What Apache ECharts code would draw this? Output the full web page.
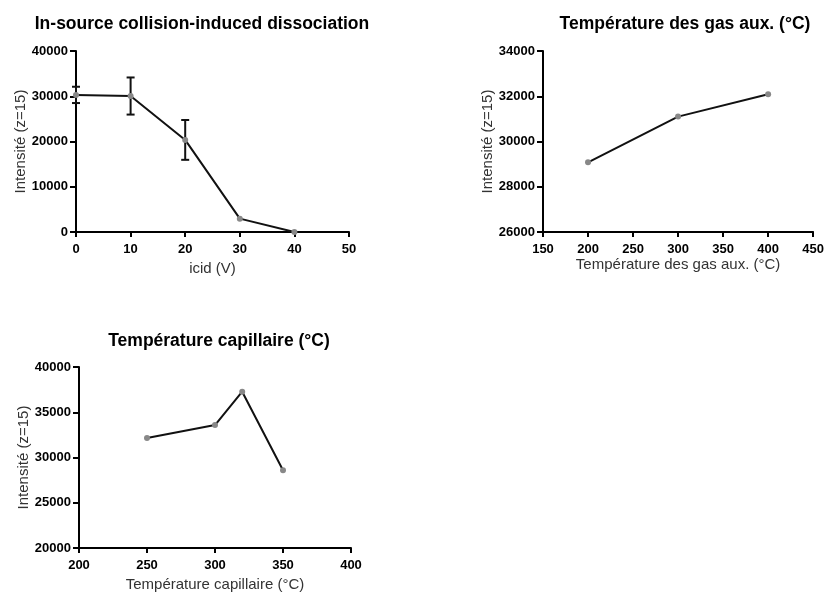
<!DOCTYPE html>
<html><head><meta charset="utf-8">
<script src="https://cdn.jsdelivr.net/npm/echarts@6/dist/echarts.min.js"></script>
<style>html,body{margin:0;padding:0;background:#fff}#c{width:827px;height:593px}</style>
</head><body><div id="c"></div>
<script>
const icidX = [0, 10, 20, 30, 40];
const icidY = [30300, 30050, 20350, 2950, 0];
const icidErr = [1800, 4100, 4400, 0, 0];
const gasX = [200, 300, 400];
const gasY = [29080, 31100, 32090];
const capX = [250, 300, 320, 350];
const capY = [32150, 33580, 37270, 28600];

const titles = ['In-source collision-induced dissociation', 'Température des gas aux. (°C)', 'Température capillaire (°C)'];
const xNames = ['icid (V)', 'Température des gas aux. (°C)', 'Température capillaire (°C)'];
const yName = 'Intensité (z=15)';

const F = 'Liberation Sans, Arial, sans-serif';
const fmt = v => String(v);
function xAxis(i, min, max, interval, gap) {
  return {gridIndex: i, type: 'value', min, max, interval, name: xNames[i], nameLocation: 'middle', nameGap: gap,
    nameTextStyle: {fontFamily: F, fontSize: 15, color: '#333'},
    axisLine: {lineStyle: {color: '#000', width: 2}}, axisTick: {length: 5, lineStyle: {color: '#000', width: 2}},
    axisLabel: {fontFamily: F, fontSize: 13, fontWeight: 'bold', color: '#000', margin: 11, formatter: fmt}, splitLine: {show: false}};
}
function yAxis(i, min, max, interval) {
  return {gridIndex: i, type: 'value', min, max, interval, name: yName, nameLocation: 'middle', nameGap: 48,
    nameTextStyle: {fontFamily: F, fontSize: 15, color: '#333'},
    axisLine: {show: true, lineStyle: {color: '#000', width: 2}}, axisTick: {show: true, length: 6, lineStyle: {color: '#000', width: 2}},
    axisLabel: {fontFamily: F, fontSize: 13, fontWeight: 'bold', color: '#000', margin: 8, formatter: fmt}, splitLine: {show: false}};
}
function line(i, xs, ys) {
  return {type: 'line', xAxisIndex: i, yAxisIndex: i, data: xs.map((x, k) => [x, ys[k]]),
    symbol: 'circle', symbolSize: 6, itemStyle: {color: '#888'}, lineStyle: {color: '#111', width: 2}, z: 3};
}
const tStyle = {fontFamily: F, fontSize: 17.5, fontWeight: 'bold', color: '#000'};
const chart = echarts.init(document.getElementById('c'));
chart.setOption({
  animation: false,
  title: [
    {text: titles[0], left: 197, top: 10, textAlign: 'center', textStyle: tStyle},
    {text: titles[1], left: 680, top: 10, textAlign: 'center', textStyle: tStyle},
    {text: titles[2], left: 214, top: 327, textAlign: 'center', textStyle: tStyle}
  ],
  grid: [
    {left: 76, top: 51, width: 273, height: 181},
    {left: 543, top: 51, width: 273, height: 181},
    {left: 79, top: 367, width: 272, height: 182}
  ],
  xAxis: [xAxis(0, 0, 50, 10, 29), xAxis(1, 150, 450, 50, 22), xAxis(2, 200, 400, 50, 29)],
  yAxis: [yAxis(0, 0, 40000, 10000), yAxis(1, 26000, 34000, 2000), yAxis(2, 20000, 40000, 5000)],
  series: [
    line(0, icidX, icidY),
    {type: 'custom', xAxisIndex: 0, yAxisIndex: 0, z: 2,
      data: icidX.map((x, k) => [x, icidY[k] - icidErr[k], icidY[k] + icidErr[k]]).filter((d, k) => icidErr[k] > 0),
      renderItem: function (params, api) {
        const lo = api.coord([api.value(0), api.value(1)]);
        const hi = api.coord([api.value(0), api.value(2)]);
        const w = 4;
        const st = {stroke: '#111', lineWidth: 2};
        return {type: 'group', children: [
          {type: 'line', shape: {x1: lo[0], y1: lo[1], x2: hi[0], y2: hi[1]}, style: st},
          {type: 'line', shape: {x1: lo[0] - w, y1: lo[1], x2: lo[0] + w, y2: lo[1]}, style: st},
          {type: 'line', shape: {x1: hi[0] - w, y1: hi[1], x2: hi[0] + w, y2: hi[1]}, style: st}
        ]};
      }},
    line(1, gasX, gasY),
    line(2, capX, capY)
  ]
});
</script></body></html>
